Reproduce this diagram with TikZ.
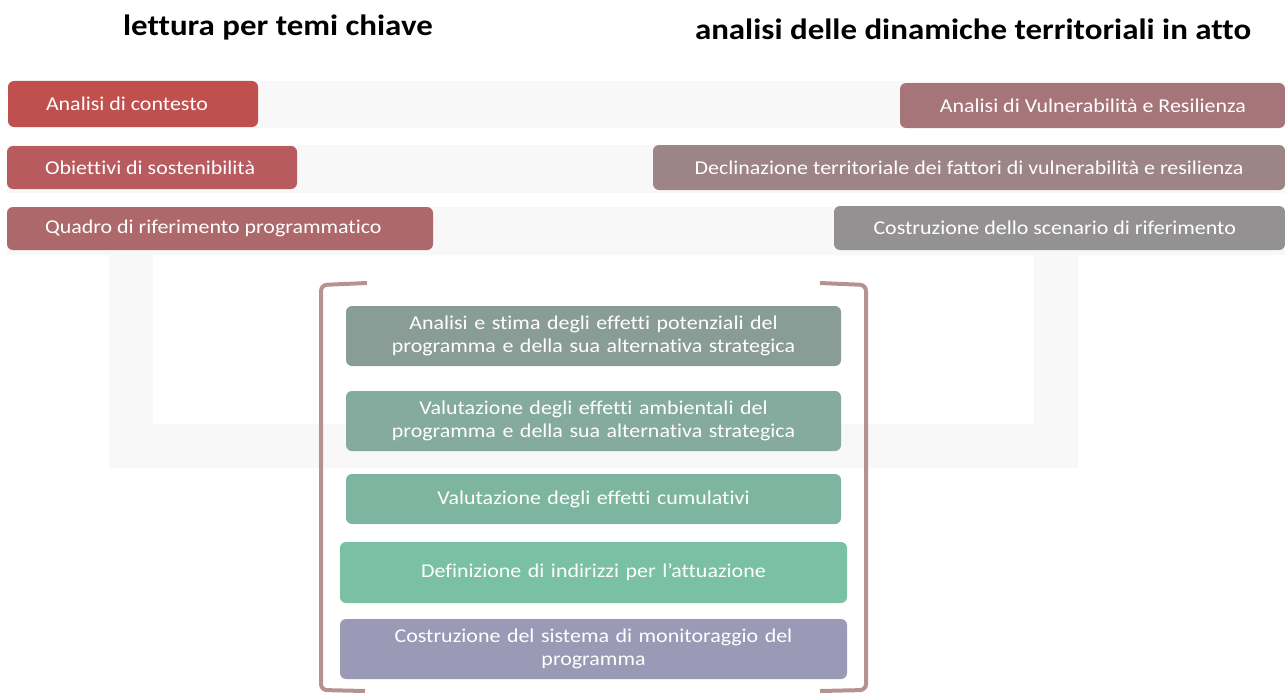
\documentclass[tikz,border=0pt]{standalone}
\usepackage{fontspec}
\setmainfont{Carlito}[Ligatures=NoCommon, FakeStretch=1.12]
\definecolor{bandgray}{HTML}{F8F8F8}
\definecolor{brkcol}{HTML}{B5928F}
\definecolor{lA}{HTML}{C0504D}
\definecolor{lB}{HTML}{B85B5E}
\definecolor{lC}{HTML}{AD686B}
\definecolor{rA}{HTML}{A6757A}
\definecolor{rB}{HTML}{9C8487}
\definecolor{rC}{HTML}{949193}
\definecolor{cA}{HTML}{8A9C96}
\definecolor{cB}{HTML}{84AB9E}
\definecolor{cC}{HTML}{7EB5A0}
\definecolor{cD}{HTML}{7AC0A5}
\definecolor{cE}{HTML}{9A9AB6}

\begin{document}
\begin{tikzpicture}[x=1pt,y=-1pt]
\tikzstyle{band}=[fill=bandgray, draw=none]
\tikzstyle{box}=[rectangle, rounded corners=6pt, text=white, inner ysep=0pt,
                 font=\fontsize{19.6}{22.5}\selectfont]
\tikzstyle{ttl}=[font=\fontsize{29.4}{32}\selectfont\bfseries]
\tikzstyle{brk}=[draw=brkcol, line width=4pt, rounded corners=6pt]
\useasboundingbox (0,0) rectangle (1285,693);

	\fill[band] (8,81) rectangle (1285,128);
	\fill[band] (7,145) rectangle (1285,193);
	\fill[band] (7,207) rectangle (1285,255);
	\fill[band, even odd rule] (109,255) rectangle (1078,468) (153,255) rectangle (1034,424);

	\node[ttl] (tl) at (278,27) {lettura per temi chiave};
	\node[ttl] (tr) at (973,29) {analisi delle dinamiche territoriali in atto};

\foreach \n/\x/\y/\w/\h/\c/\t in {ctx/133/104/250/46/lA/{Analisi di contesto},
    obj/152/167.5/290/43/lB/{Obiettivi di sostenibilità},
    qdr/220/228.5/426/43/lC/{Quadro di riferimento programmatico}}{
	\node[box, fill=\c, minimum height=\h, inner xsep=38] (\n) at (\x,\y)
	  {\makebox[\dimexpr\w pt-76pt\relax][l]{\t}};}

\foreach \n/\x/\y/\w/\h/\p/\a/\c/\t in {vul/1092.5/105.5/385/45/39/r/rA/{Analisi di Vulnerabilità e Resilienza},
    dec/969/167.5/632/45/15/c/rB/{Declinazione territoriale dei fattori di vulnerabilità e resilienza},
    scn/1059.5/228/451/44/49/r/rC/{Costruzione dello scenario di riferimento}}{
	\node[box, fill=\c, minimum height=\h, inner xsep=\p] (\n) at (\x,\y)
	  {\makebox[\dimexpr\w pt-\p pt-\p pt\relax][\a]{\t}};}

\foreach \n/\y/\w/\h/\c/\t in {eff/336/495/60/cA/{Analisi e stima degli effetti potenziali del\\programma e della sua alternativa strategica},
    amb/421/495/60/cB/{Valutazione degli effetti ambientali del\\programma e della sua alternativa strategica},
    cum/499/495/50/cC/{Valutazione degli effetti cumulativi},
    ind/572.5/507/61/cD/{Definizione di indirizzi per l’attuazione},
    mon/649/507/60/cE/{Costruzione del sistema di monitoraggio del\\programma}}{
	\node[box, fill=\c, minimum height=\h, text width=\w, inner xsep=0, align=center] (\n) at (593.5,\y) {\t};}

	\draw[brk] (367,283) -- (321,285) -- (321,690) -- (365,691);
	\draw[brk] (820,283) -- (866,285) -- (866,690) -- (820,691);

\end{tikzpicture}
\end{document}
